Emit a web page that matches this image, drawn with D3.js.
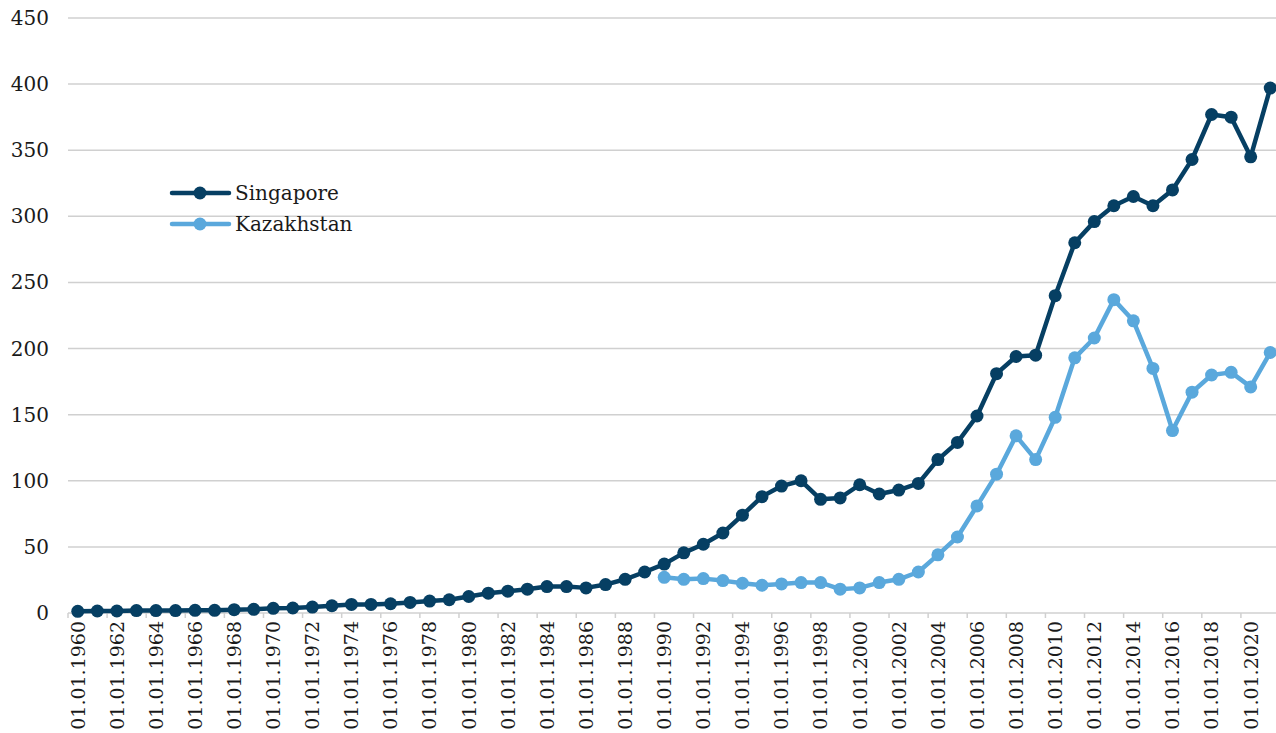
<!DOCTYPE html>
<html>
<head>
<meta charset="utf-8">
<script src="https://cdn.jsdelivr.net/npm/d3@7/dist/d3.min.js"></script>
<style>
  body { margin: 0; background: #fff; }
  svg text { font-family: "DejaVu Serif", serif; fill: #1a1a1a; }
</style>
</head>
<body>
<svg id="chart" width="1276" height="733"></svg>
<script>
// years on the category axis
var years = d3.range(1960, 2022);

// Singapore, 1960-2021
var singapore = [1.3, 1.5, 1.5, 1.8, 1.8, 1.8, 2, 2, 2.5, 2.8,
    3.5, 3.8, 4.5, 5.5, 6.5, 6.5, 7, 8, 9, 10,
    12.5, 15, 16.5, 18, 20, 20, 19, 21.5, 25.5, 31,
    37, 45.5, 52, 60.5, 74, 88, 96, 100, 86, 87,
    97, 90, 93, 98, 116, 129, 149, 181, 194, 195,
    240, 280, 296, 308, 315, 308, 320, 343, 377, 375,
    345, 397];

// Kazakhstan, 1990-2021
var kazakhstanStart = 1990;
var kazakhstan = [27, 25.5, 26, 24.5, 22.5, 21, 22, 23, 23, 18,
    19, 23, 25.5, 31, 44, 57.5, 81, 105, 134, 116,
    148, 193, 208, 237, 221, 185, 138, 167, 180, 182,
    171, 197];

var yTicks = [0, 50, 100, 150, 200, 250, 300, 350, 400, 450];

var series = [
    { name: "Singapore", color: "#063f63", values: singapore.map(function (v, i) { return { year: years[i], value: v }; }) },
    { name: "Kazakhstan", color: "#5aa8dc", values: kazakhstan.map(function (v, i) { return { year: kazakhstanStart + i, value: v }; }) }
];

var svg = d3.select("#chart");
var plotLeft = 68, plotRight = 1280, plotTop = 18, plotBottom = 613;

var x = d3.scaleBand()
    .domain(years)
    .range([plotLeft, plotRight]);

var y = d3.scaleLinear()
    .domain([0, 450])
    .range([plotBottom, plotTop]);

// horizontal gridlines
svg.append("g")
    .selectAll("line")
    .data(yTicks)
    .enter()
    .append("line")
    .attr("x1", plotLeft)
    .attr("x2", 1276)
    .attr("y1", function (d) { return y(d); })
    .attr("y2", function (d) { return y(d); })
    .style("stroke", "#d0d0d0")
    .style("stroke-width", 1.5);

// y labels
svg.append("g")
    .selectAll("text")
    .data(yTicks)
    .enter()
    .append("text")
    .attr("x", 49)
    .attr("y", function (d) { return y(d); })
    .attr("dy", "0.35em")
    .attr("text-anchor", "end")
    .style("font-size", "20px")
    .text(function (d) { return d; });

// tick marks every two years
svg.append("g")
    .selectAll("line")
    .data(years.filter(function (d) { return (d - 1960) % 2 === 0; }))
    .enter()
    .append("line")
    .attr("x1", function (d) { return x(d); })
    .attr("x2", function (d) { return x(d); })
    .attr("y1", plotBottom)
    .attr("y2", plotBottom + 5)
    .style("stroke", "#d0d0d0")
    .style("stroke-width", 1.5);

// x labels, rotated
svg.append("g")
    .selectAll("text")
    .data(years.filter(function (d) { return (d - 1960) % 2 === 0; }))
    .enter()
    .append("text")
    .attr("transform", function (d) {
        return "translate(" + (x(d) + x.bandwidth() / 2) + "," + (plotBottom + 8) + ") rotate(-90)";
    })
    .attr("dy", "0.36em")
    .attr("text-anchor", "end")
    .style("font-size", "19px")
    .text(function (d) { return "01.01." + d; });

var line = d3.line()
    .x(function (d) { return x(d.year) + x.bandwidth() / 2; })
    .y(function (d) { return y(d.value); });

series.forEach(function (s) {
    svg.append("path")
        .datum(s.values)
        .attr("d", line)
        .style("fill", "none")
        .style("stroke", s.color)
        .style("stroke-width", 4.5)
        .style("stroke-linejoin", "round");

    svg.append("g")
        .selectAll("circle")
        .data(s.values)
        .enter()
        .append("circle")
        .attr("cx", function (d) { return x(d.year) + x.bandwidth() / 2; })
        .attr("cy", function (d) { return y(d.value); })
        .attr("r", 6.5)
        .style("fill", s.color);
});

// legend
var legend = svg.append("g")
    .selectAll("g")
    .data(series)
    .enter()
    .append("g")
    .attr("transform", function (d, i) { return "translate(172," + (193 + i * 31) + ")"; });

legend.append("line")
    .attr("x1", 0)
    .attr("x2", 57)
    .style("stroke", function (d) { return d.color; })
    .style("stroke-width", 4.5)
    .style("stroke-linecap", "round");

legend.append("circle")
    .attr("cx", 28)
    .attr("r", 6.5)
    .style("fill", function (d) { return d.color; });

legend.append("text")
    .attr("x", 63)
    .attr("dy", "0.35em")
    .style("font-size", "20px")
    .text(function (d) { return d.name; });
</script>
</body>
</html>
